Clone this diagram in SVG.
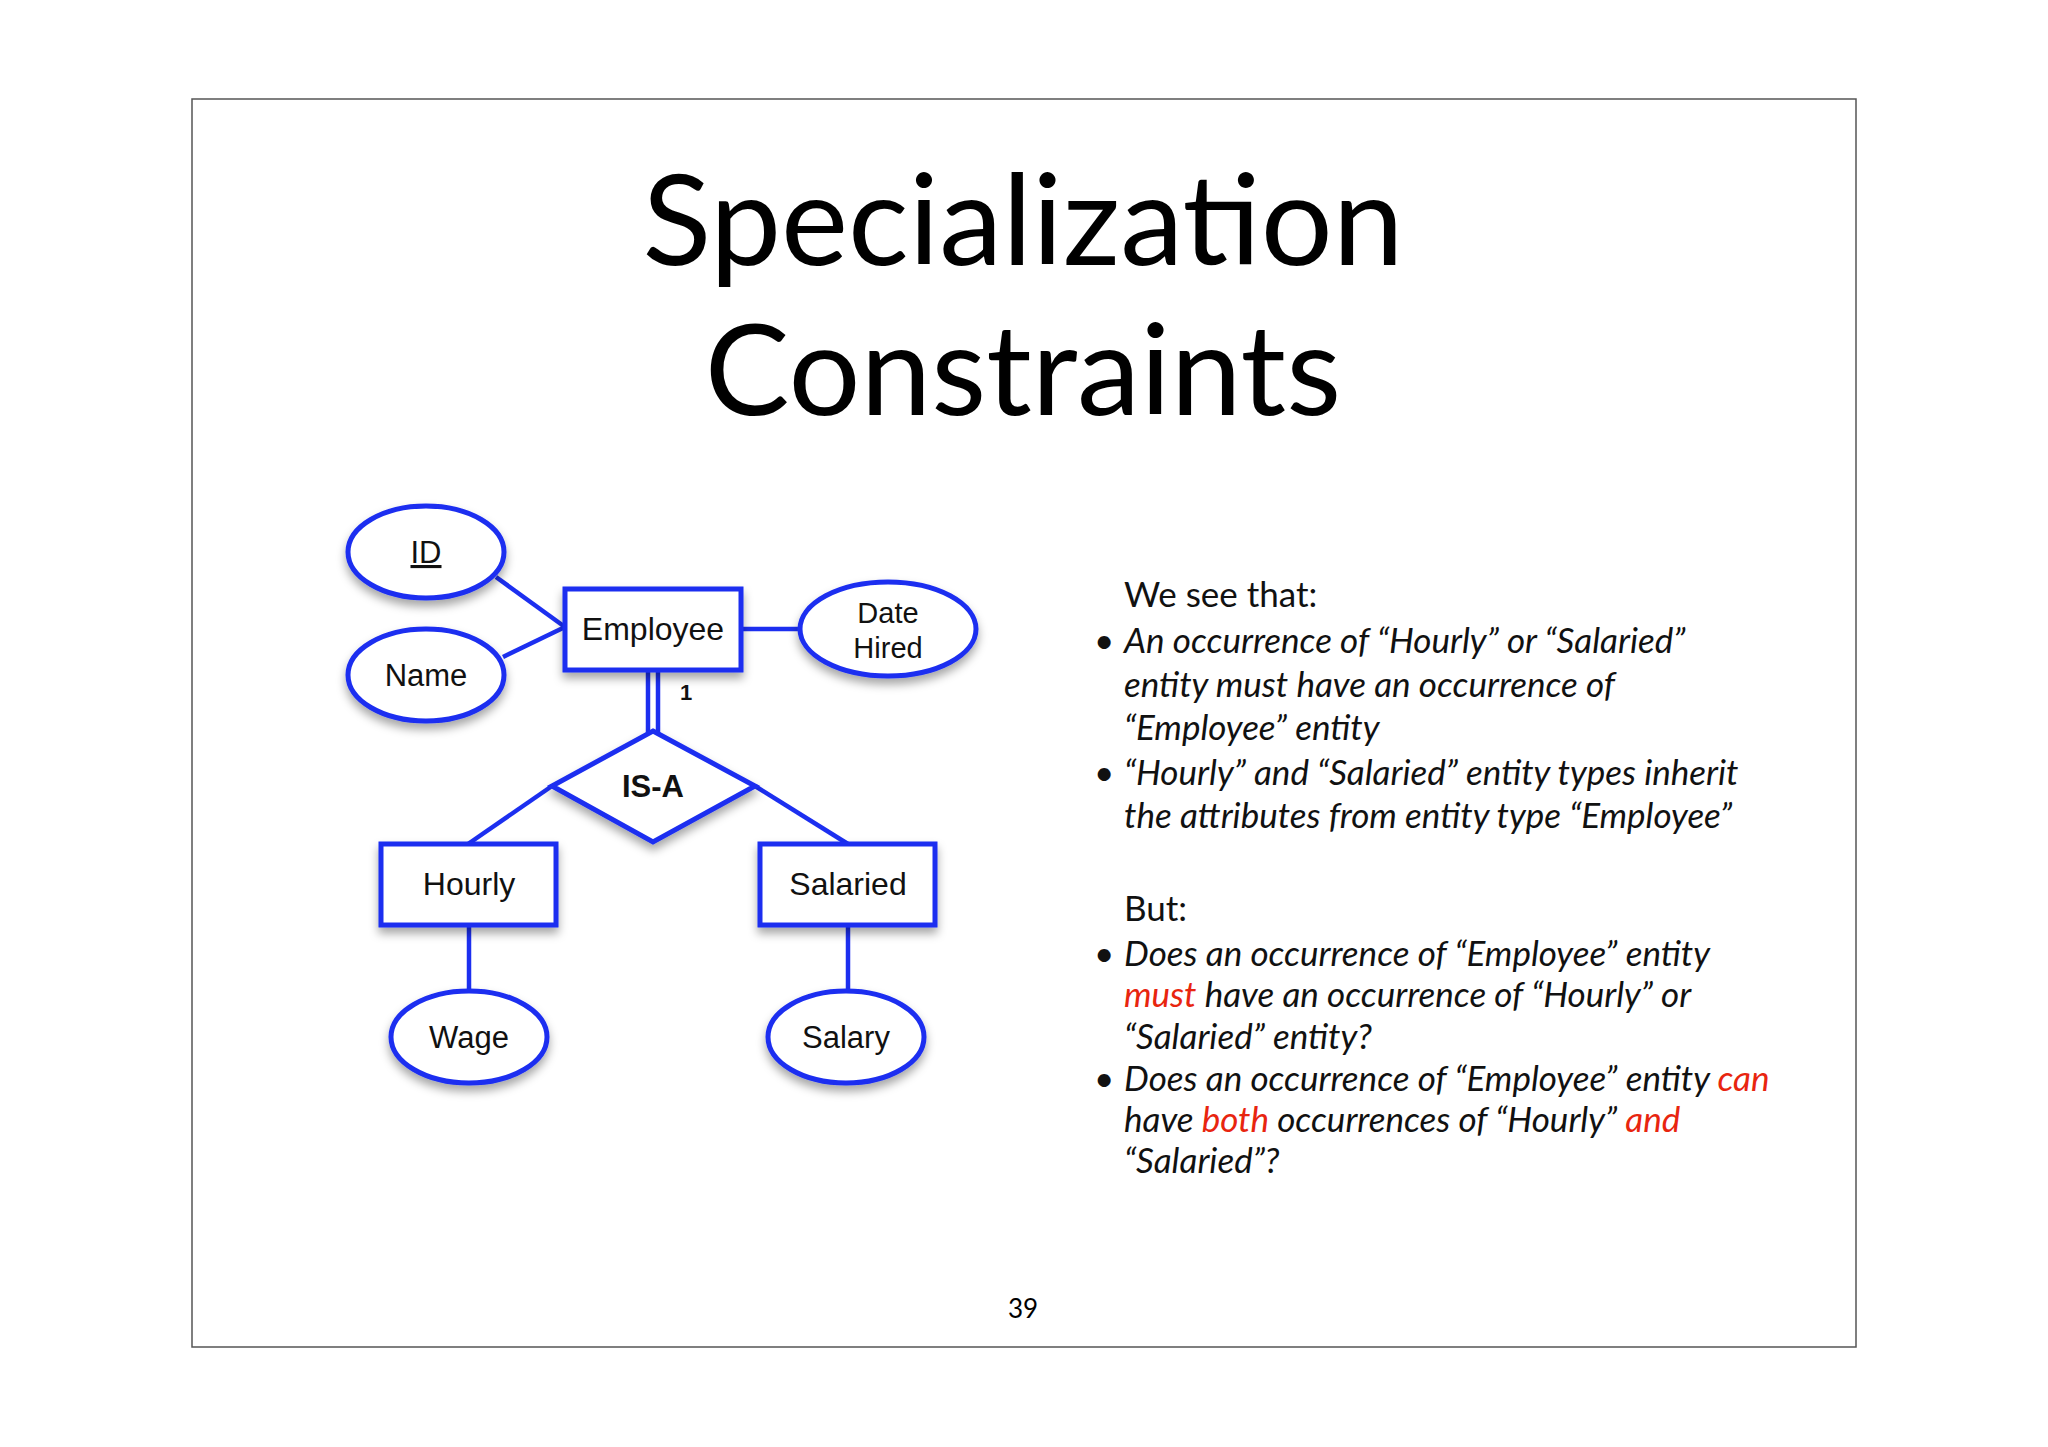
<svg xmlns="http://www.w3.org/2000/svg" width="2048" height="1447" viewBox="0 0 2048 1447">
<style>
.s{fill:#fff;stroke:#1c2ff0;stroke-width:5}
.c{stroke:#1c2ff0;stroke-width:4.5;fill:none}
.n{font-family:"Liberation Sans",Arial,sans-serif;font-size:31px;text-anchor:middle;fill:#111}
.t{font-family:Lato,"Open Sans",sans-serif;font-size:127px;text-anchor:middle;fill:#000}
.b{font-family:Lato,"Open Sans",sans-serif;font-size:35px;fill:#111}
.i{font-style:italic}
.r{fill:#e8250f}
</style>
<defs><filter id="sh" x="-20%" y="-20%" width="150%" height="160%"><feDropShadow dx="0" dy="6" stdDeviation="5" flood-color="#000" flood-opacity="0.35"/></filter></defs>
<rect width="2048" height="1447" fill="#fff"/>
<rect x="192" y="99" width="1664" height="1248" fill="#fff" stroke="#555" stroke-width="1.5"/>
<text class="t" x="1023" y="265">Specialization</text>
<text class="t" x="1023" y="415">Constraints</text>
<g id="connectors">
<line class="c" x1="496" y1="577" x2="565" y2="627"/>
<line class="c" x1="503" y1="657" x2="565" y2="627"/>
<line class="c" x1="741" y1="629" x2="800" y2="629"/>
<line class="c" x1="648" y1="670" x2="648" y2="733"/>
<line class="c" x1="658" y1="670" x2="658" y2="733"/>
<line class="c" x1="468" y1="844" x2="552" y2="786"/>
<line class="c" x1="848" y1="844" x2="755" y2="786"/>
<line class="c" x1="469" y1="925" x2="469" y2="993"/>
<line class="c" x1="848" y1="925" x2="848" y2="993"/>
<text class="n" x="686" y="700" style="font-size:22px;font-weight:bold">1</text>
</g>
<g id="id"><ellipse class="s" filter="url(#sh)" cx="426" cy="552" rx="78" ry="46"/><text class="n" x="426" y="563" text-decoration="underline">ID</text></g>
<g id="name"><ellipse class="s" filter="url(#sh)" cx="426" cy="675" rx="78" ry="46"/><text class="n" x="426" y="686">Name</text></g>
<g id="employee"><rect class="s" filter="url(#sh)" x="565" y="589" width="176" height="81"/><text class="n" x="653" y="640" style="font-size:32px">Employee</text></g>
<g id="datehired"><ellipse class="s" filter="url(#sh)" cx="888" cy="629" rx="88" ry="47"/><text class="n" x="888" y="623" style="font-size:29px">Date</text><text class="n" x="888" y="658" style="font-size:29px">Hired</text></g>
<g id="isa"><polygon class="s" filter="url(#sh)" points="653,731 755,786 653,842 552,786"/><text class="n" x="653" y="797" font-weight="bold">IS-A</text></g>
<g id="hourly"><rect class="s" filter="url(#sh)" x="381" y="844" width="175" height="81"/><text class="n" x="469" y="895" style="font-size:32px">Hourly</text></g>
<g id="salaried"><rect class="s" filter="url(#sh)" x="760" y="844" width="175" height="81"/><text class="n" x="848" y="895" style="font-size:32px">Salaried</text></g>
<g id="wage"><ellipse class="s" filter="url(#sh)" cx="469" cy="1037" rx="78" ry="46"/><text class="n" x="469" y="1048">Wage</text></g>
<g id="salary"><ellipse class="s" filter="url(#sh)" cx="846" cy="1037" rx="78" ry="46"/><text class="n" x="846" y="1048">Salary</text></g>
<g class="b">
<text x="1124" y="607">We see that:</text>
<text x="1094" y="653">•</text><text class="i" x="1124" y="653">An occurrence of  “Hourly” or “Salaried”</text>
<text class="i" x="1124" y="697">entity must have an occurrence of</text>
<text class="i" x="1124" y="740">“Employee” entity</text>
<text x="1094" y="785">•</text><text class="i" x="1124" y="785">“Hourly” and “Salaried” entity types inherit</text>
<text class="i" x="1124" y="828">the attributes from entity type “Employee”</text>
<text x="1124" y="921">But:</text>
<text x="1094" y="966">•</text><text class="i" x="1124" y="966">Does an occurrence of “Employee” entity</text>
<text class="i" x="1124" y="1007"><tspan class="r">must</tspan> have an occurrence of “Hourly” or</text>
<text class="i" x="1124" y="1049">“Salaried” entity?</text>
<text x="1094" y="1091">•</text><text class="i" x="1124" y="1091">Does an occurrence of “Employee” entity <tspan class="r">can</tspan></text>
<text class="i" x="1124" y="1132">have <tspan class="r">both</tspan> occurrences of “Hourly” <tspan class="r">and</tspan></text>
<text class="i" x="1124" y="1173">“Salaried”?</text>
</g>
<text x="1023" y="1318" style="font-family:Lato,sans-serif;font-size:26px;text-anchor:middle">39</text>
</svg>
